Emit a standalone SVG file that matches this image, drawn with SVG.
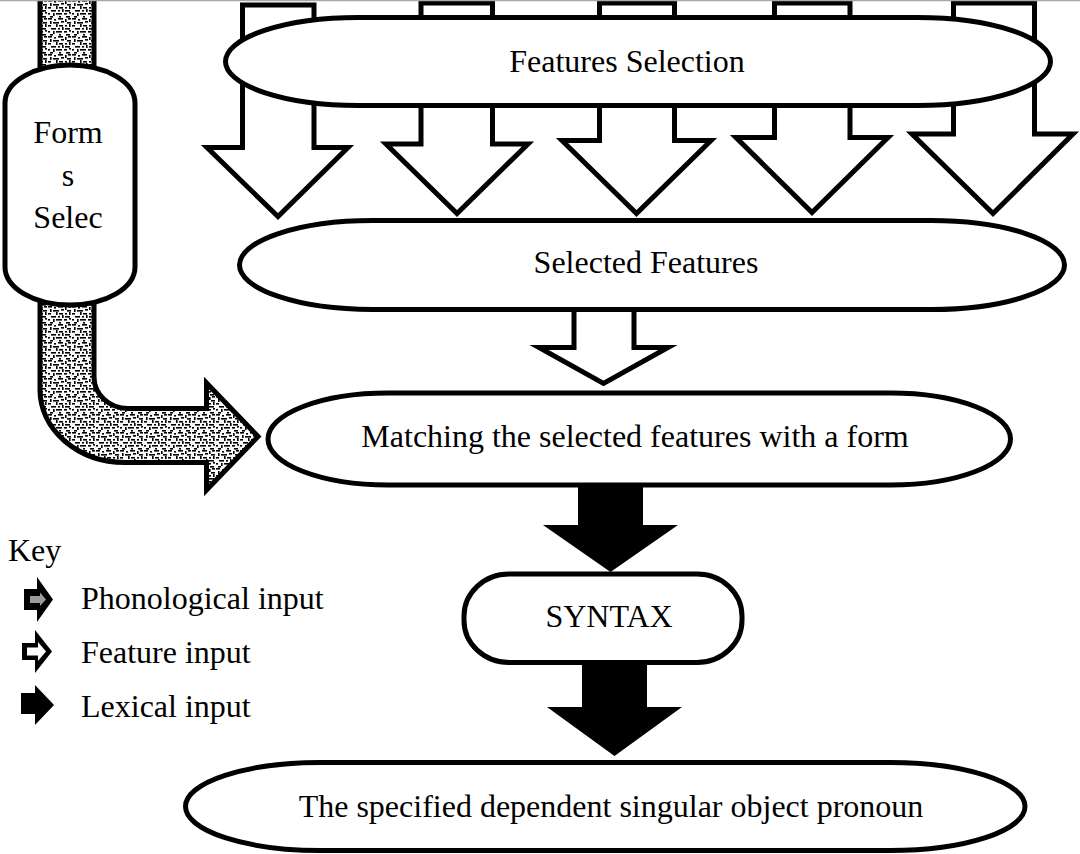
<svg xmlns="http://www.w3.org/2000/svg" width="1080" height="854" viewBox="0 0 1080 854">
  <style>
    .outline { fill: #fff; stroke: #000; stroke-width: 5; stroke-linejoin: miter; stroke-miterlimit: 10; }
    .textured { fill: url(#grain); stroke: #000; stroke-width: 5; stroke-linejoin: miter; }
    .solid { fill: #000; stroke: none; }
    .label { font-family: "Liberation Serif", "Times New Roman", serif; font-size: 32px; fill: #000; }
    .mid { text-anchor: middle; }
  </style>
  <defs>
    <!-- speckled fill used for the phonological route -->
    <pattern id="grain" width="24" height="18" patternUnits="userSpaceOnUse">
      <rect width="24" height="18" fill="#fafafa"/>
      <g fill="#000">
        <rect x="0" y="0" width="4" height="1.6"/>
        <rect x="6" y="1" width="2" height="1.6"/>
        <rect x="10" y="0" width="5" height="1.6"/>
        <rect x="17" y="1" width="1.6" height="3"/>
        <rect x="20" y="0" width="3" height="1.6"/>
        <rect x="2" y="3" width="1.6" height="3"/>
        <rect x="5" y="4" width="6" height="1.6"/>
        <rect x="13" y="3" width="3" height="1.6"/>
        <rect x="19" y="4" width="4" height="1.6"/>
        <rect x="0" y="7" width="3" height="1.6"/>
        <rect x="8" y="6" width="1.6" height="3"/>
        <rect x="11" y="7" width="4" height="1.6"/>
        <rect x="17" y="7" width="2" height="1.6"/>
        <rect x="21" y="6" width="1.6" height="3"/>
        <rect x="3" y="10" width="5" height="1.6"/>
        <rect x="10" y="10" width="2" height="1.6"/>
        <rect x="14" y="9" width="1.6" height="3"/>
        <rect x="17" y="10" width="5" height="1.6"/>
        <rect x="0" y="13" width="2" height="1.6"/>
        <rect x="5" y="13" width="1.6" height="3"/>
        <rect x="8" y="13" width="6" height="1.6"/>
        <rect x="16" y="13" width="3" height="1.6"/>
        <rect x="21" y="12" width="2" height="1.6"/>
        <rect x="2" y="16" width="3" height="1.6"/>
        <rect x="11" y="16" width="2" height="1.6"/>
        <rect x="18" y="16" width="4" height="1.6"/>
      </g>
    </pattern>
  </defs>

  <rect width="1080" height="854" fill="#fff"/>

  <!-- arrows between the stages -->
  <g id="connectors">
    <!-- phonological route: down from the top edge, through the form selection, bending right -->
    <rect class="textured" x="40" y="-5" width="54" height="80"/>
    <path class="textured" d="M 40,290 L 40,390 A 85,72.5 0 0 0 125,462.5 L 206.5,462.5 L 206.5,490 L 258,436.5 L 206.5,383 L 206.5,408.5 L 128,408.5 A 34,31.5 0 0 1 94,377 L 94,290 Z"/>

    <!-- feature inputs passing through Features Selection -->
    <polygon class="outline" points="242.5,5 314,5 314,147.5 348,147.5 278,216.5 207,147.5 242.5,147.5"/>
    <polygon class="outline" points="421,3 492.5,3 492.5,144 528,144 457,213.5 386,144 421,144"/>
    <polygon class="outline" points="599.5,3 674.5,3 674.5,140.5 711,140.5 636.5,213.5 562,140.5 599.5,140.5"/>
    <polygon class="outline" points="774.5,3 850,3 850,137.5 888,137.5 812,212.5 736,137.5 774.5,137.5"/>
    <polygon class="outline" points="953.5,3 1034.5,3 1034.5,134 1073,134 993,213.5 912,134 953.5,134"/>

    <!-- Selected Features to Matching -->
    <polygon class="outline" points="574,300 634,300 634,347.5 668,347.5 603.5,383.5 539,347.5 574,347.5"/>

    <!-- lexical inputs -->
    <polygon class="solid" points="578,480 643,480 643,525 678,525 610.5,572 543,525 578,525"/>
    <polygon class="solid" points="582,658 647,658 647,707 682,707 614.5,756 547,707 582,707"/>
  </g>

  <g id="form-selection">
    <rect class="outline" x="5" y="65" width="130" height="240" rx="65" ry="38"/>
    <text class="label mid" x="68" y="143">Form</text>
    <text class="label mid" x="68" y="186">s</text>
    <text class="label mid" x="68" y="228">Selec</text>
  </g>

  <g id="features-selection">
    <path class="outline" d="M 358.5,17.5 H 917.5 A 133,44 0 0 1 917.5,105.5 H 358.5 A 133,44 0 0 1 358.5,17.5 Z"/>
    <text class="label mid" x="627" y="72">Features Selection</text>
  </g>

  <g id="selected-features">
    <path class="outline" d="M 372.5,220.5 H 931.5 A 133,44.5 0 0 1 931.5,309.5 H 372.5 A 133,44.5 0 0 1 372.5,220.5 Z"/>
    <text class="label mid" x="646" y="273">Selected Features</text>
  </g>

  <g id="matching">
    <path class="outline" d="M 388,393 H 890.5 A 120,46 0 0 1 890.5,485 H 388 A 120,46 0 0 1 388,393 Z"/>
    <text class="label mid" x="635" y="447">Matching the selected features with a form</text>
  </g>

  <g id="syntax">
    <rect class="outline" x="464" y="574" width="278" height="88.5" rx="45" ry="42"/>
    <text class="label mid" x="609" y="627">SYNTAX</text>
  </g>

  <g id="output">
    <path class="outline" d="M 320.5,762.5 H 890 A 135,44 0 0 1 890,850.5 H 320.5 A 135,44 0 0 1 320.5,762.5 Z"/>
    <text class="label mid" x="611" y="817">The specified dependent singular object pronoun</text>
  </g>

  <g id="key">
    <text class="label" x="8" y="561">Key</text>
    <polygon class="solid" points="24,589 37,589 37,577 53,599.5 37,622 37,610 24,610"/>
    <polygon fill="#9a9a9a" points="30,596 40,596 40,592.5 46,599.5 40,606 40,603 30,603"/>
    <text class="label" x="81" y="609">Phonological input</text>
    <polygon class="solid" points="22,643 35,643 35,630 52,651.5 35,673 35,660 22,660"/>
    <polygon fill="#fff" points="27,647.5 38,647.5 38,642 46,651.5 38,661 38,655.5 27,655.5"/>
    <text class="label" x="81" y="663">Feature input</text>
    <polygon class="solid" points="21,693 35,693 35,685 54,705 35,725 35,714 21,714"/>
    <text class="label" x="81" y="717">Lexical input</text>
  </g>

  <!-- page edge -->
  <line x1="0" y1="0.5" x2="1080" y2="0.5" stroke="#a8a8a8" stroke-width="1.5"/>
</svg>
